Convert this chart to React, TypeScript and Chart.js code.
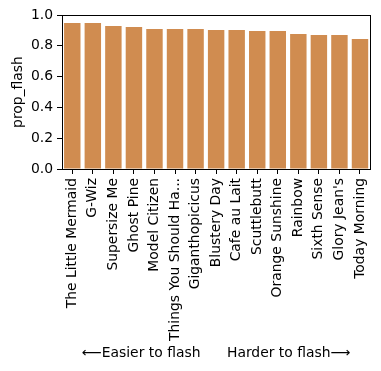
import React, { useEffect, useRef } from "react";
import { Chart, registerables } from "chart.js";

Chart.register(...registerables);

const categories = [
  "The Little Mermaid",
  "G-Wiz",
  "Supersize Me",
  "Ghost Pine",
  "Model Citizen",
  "Things You Should Ha...",
  "Giganthopicicus",
  "Blustery Day",
  "Cafe au Lait",
  "Scuttlebutt",
  "Orange Sunshine",
  "Rainbow",
  "Sixth Sense",
  "Glory Jean's",
  "Today Morning",
];

const propFlash = [
  0.948, 0.948, 0.929, 0.922, 0.909, 0.909, 0.909, 0.903, 0.903, 0.896, 0.896,
  0.877, 0.870, 0.870, 0.844,
];

const yTicks = [0, 0.2, 0.4, 0.6, 0.8, 1.0];
const yLabel = "prop_flash";
const xLabel = "\u27F5Easier to flash      Harder to flash\u27F6";

const FONT = "'DejaVu Sans', sans-serif";
const FS = 13.9;

const frame = {
  id: "frame",
  afterDraw(chart: any) {
    const { ctx, chartArea } = chart;
    ctx.save();
    ctx.strokeStyle = "#000";
    ctx.lineWidth = 1;
    ctx.strokeRect(
      Math.round(chartArea.left) + 0.5,
      Math.round(chartArea.top) + 0.5,
      Math.round(chartArea.right - chartArea.left),
      Math.round(chartArea.bottom - chartArea.top)
    );
    ctx.restore();
  },
};

export default function App() {
  const ref = useRef<HTMLCanvasElement | null>(null);
  useEffect(() => {
    if (!ref.current) return;
    Chart.defaults.color = "#000";
    const chart = new Chart(ref.current, {
      type: "bar",
      data: {
        labels: categories,
        datasets: [
          {
            data: propFlash,
            backgroundColor: "#d08c50",
            barPercentage: 0.8,
            categoryPercentage: 1,
          },
        ],
      },
      options: {
        animation: false,
        responsive: false,
        devicePixelRatio: 1,
        layout: { padding: { top: 15, right: 10, left: 0, bottom: 0 } },
        plugins: { legend: { display: false }, tooltip: { enabled: false } },
        scales: {
          x: {
            afterFit: (s: any) => {
              s.height = 202;
            },
            grid: {
              offset: false,
              drawOnChartArea: false,
              drawTicks: true,
              tickLength: 5,
              color: "#000",
            },
            border: { display: true, color: "#000" },
            ticks: {
              autoSkip: false,
              maxRotation: 90,
              minRotation: 90,
              padding: 4,
              color: "#000",
              font: { family: FONT, size: FS },
            },
            title: {
              display: true,
              text: xLabel,
              color: "#000",
              font: { family: FONT, size: FS },
              padding: { top: 0, bottom: 9 },
            },
          },
          y: {
            min: 0,
            max: 1,
            afterFit: (s: any) => {
              s.width = 62;
            },
            afterBuildTicks: (s: any) => {
              s.ticks = yTicks.map((v) => ({ value: v }));
            },
            grid: {
              drawOnChartArea: false,
              drawTicks: true,
              tickLength: 5,
              color: "#000",
            },
            border: { display: true, color: "#000" },
            ticks: {
              padding: 4,
              color: "#000",
              font: { family: FONT, size: FS },
              callback: (v: any) => Number(v).toFixed(1),
            },
            title: {
              display: true,
              text: yLabel,
              color: "#000",
              font: { family: FONT, size: FS },
              padding: { top: 10, bottom: 0 },
            },
          },
        },
      },
      plugins: [frame],
    });
    return () => chart.destroy();
  }, []);
  return (
    <div style={{ position: "fixed", left: 0, top: 0, width: 381, height: 371, background: "#fff" }}>
      <canvas ref={ref} width={381} height={371} />
    </div>
  );
}
